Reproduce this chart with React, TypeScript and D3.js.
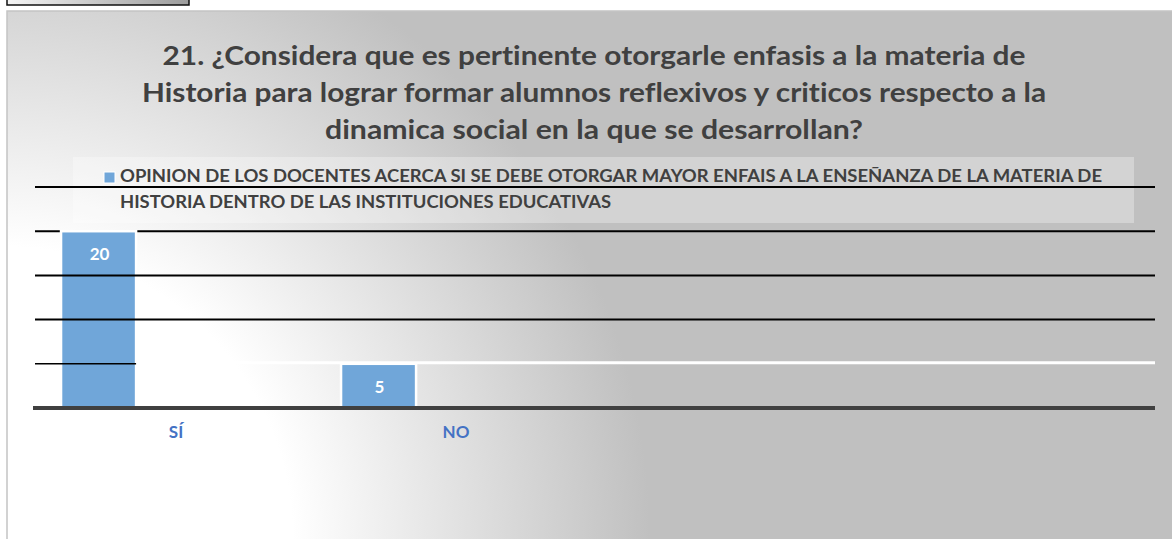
import React, { useEffect, useRef } from 'react'
import * as d3 from 'd3'

// chart values
const categories = ['SÍ', 'NO']
const values = [20, 5]
const yTicks = [0, 5, 10, 15, 20, 25]
const titleLines = [
    '21. ¿Considera que es pertinente otorgarle enfasis a la materia de',
    'Historia para lograr formar alumnos reflexivos y criticos respecto a la',
    'dinamica social en la que se desarrollan?',
]
const legendLines = [
    'OPINION DE LOS DOCENTES ACERCA SI SE DEBE OTORGAR MAYOR ENFAIS A LA ENSEÑANZA DE LA MATERIA DE',
    'HISTORIA DENTRO DE LAS INSTITUCIONES EDUCATIVAS',
]

const W = 1172
const H = 539
const FONT = 'Lato, Carlito, Calibri, sans-serif'
const BAR = '#70a6d9'
const TEXT = '#404040'

const App = () => {
    const svgRef = useRef<SVGSVGElement>(null)

    useEffect(() => {
        const svg = d3.select(svgRef.current)
        svg.selectAll('*').remove()
        svg.style('font-variant-ligatures', 'none').style('font-feature-settings', '"liga" 0, "dlig" 0')

        const defs = svg.append('defs')
        const rg = defs.append('radialGradient')
            .attr('id', 'bg').attr('gradientUnits', 'userSpaceOnUse')
            .attr('cx', 0).attr('cy', H).attr('r', 650)
        rg.append('stop').attr('offset', 0.45).attr('stop-color', '#ffffff')
        rg.append('stop').attr('offset', 1).attr('stop-color', '#c0c0c0')
        const lg = defs.append('linearGradient').attr('id', 'tab')
        lg.append('stop').attr('offset', 0).attr('stop-color', '#f4f4f4')
        lg.append('stop').attr('offset', 1).attr('stop-color', '#9c9c9c')

        // little box cut off at the top
        svg.append('rect').attr('x', 7).attr('y', -10).attr('width', 182).attr('height', 15)
            .attr('fill', 'url(#tab)').attr('stroke', '#111').attr('stroke-width', 1.5)

        // chart area
        svg.append('rect').attr('x', 7).attr('y', 11).attr('width', W).attr('height', H)
            .attr('fill', 'url(#bg)').attr('stroke', '#c4c4c4').attr('stroke-width', 1.5)

        // title
        const title = svg.append('text').attr('font-family', FONT).attr('font-weight', 700)
            .attr('font-size', 27).attr('fill', TEXT).attr('text-anchor', 'middle')
        const titleWidths = [863, 904, 538]
        titleLines.forEach((t, i) => {
            title.append('tspan').attr('x', 594).attr('y', 65 + i * 37)
                .attr('textLength', titleWidths[i]).attr('lengthAdjust', 'spacingAndGlyphs').text(t)
        })

        // legend
        svg.append('rect').attr('x', 73).attr('y', 157).attr('width', 1061).attr('height', 66)
            .attr('fill', '#fff').attr('fill-opacity', 0.3)
        svg.append('rect').attr('x', 104).attr('y', 172).attr('width', 11).attr('height', 11)
            .attr('fill', BAR).attr('stroke', '#fff').attr('stroke-width', 1)
        const legendWidths = [982, 491]
        const legendText = svg.append('text').attr('font-family', FONT).attr('font-weight', 700)
            .attr('font-size', 16.5).attr('fill', TEXT)
        legendLines.forEach((t, i) => {
            legendText.append('tspan').attr('x', 120).attr('y', 182 + i * 26)
                .attr('textLength', legendWidths[i]).attr('lengthAdjust', 'spacingAndGlyphs').text(t)
        })

        // scales
        const x = d3.scaleBand<number>().domain(d3.range(4)).range([35, 1155])
        const y = d3.scaleLinear().domain([0, 25]).range([408, 187])
        const bw = x.bandwidth()
        const barX = (i: number) => (x(i) as number) + bw * 0.093
        const barW = bw * 0.268

        const grid = svg.append('g')
        const gridLine = (v: number, x1: number, x2: number, color: string, w: number) =>
            grid.append('line').attr('x1', x1).attr('x2', x2).attr('y1', y(v)).attr('y2', y(v))
                .attr('stroke', color).attr('stroke-width', w)

        yTicks.filter(v => v >= 20).forEach(v => gridLine(v, 35, 1155, '#000', 2))

        // bars
        svg.append('g').selectAll('rect').data(values).join('rect')
            .attr('x', (_, i) => barX(i)).attr('width', barW)
            .attr('y', d => y(d)).attr('height', d => y(0) - y(d))
            .attr('fill', BAR).attr('stroke', '#fff').attr('stroke-width', 2.5)

        const over = svg.append('g')
        yTicks.filter(v => v === 10 || v === 15).forEach(v =>
            over.append('line').attr('x1', 35).attr('x2', 1155).attr('y1', y(v)).attr('y2', y(v))
                .attr('stroke', '#000').attr('stroke-width', 2))
        over.append('line').attr('x1', 35).attr('x2', barX(0) + barW).attr('y1', y(5)).attr('y2', y(5))
            .attr('stroke', '#000').attr('stroke-width', 1.5)
        over.append('line').attr('x1', barX(0) + barW + 1).attr('x2', 1155).attr('y1', y(5) - 1).attr('y2', y(5) - 1)
            .attr('stroke', '#fff').attr('stroke-width', 3)

        // axis
        svg.append('line').attr('x1', 33).attr('x2', 1155).attr('y1', y(0)).attr('y2', y(0))
            .attr('stroke', '#404040').attr('stroke-width', 4)

        // bar labels
        svg.append('g').selectAll('text').data(values).join('text')
            .attr('x', (_, i) => barX(i) + barW / 2 + 1).attr('y', d => y(d) + 29)
            .attr('text-anchor', 'middle').attr('font-family', FONT).attr('font-weight', 700)
            .attr('font-size', 17).attr('fill', '#fff').text(d => d)

        // category labels
        svg.append('g').selectAll('text').data(categories).join('text')
            .attr('x', (_, i) => (x(i) as number) + bw / 2 + 1).attr('y', 438)
            .attr('text-anchor', 'middle').attr('font-family', FONT).attr('font-weight', 700)
            .attr('font-size', 17).attr('fill', '#4472c4').text(d => d)
    }, [])

    return (
        <svg ref={svgRef} width={W} height={H} style={{ position: 'absolute', left: 0, top: 0 }}></svg>
    )
}

export default App
